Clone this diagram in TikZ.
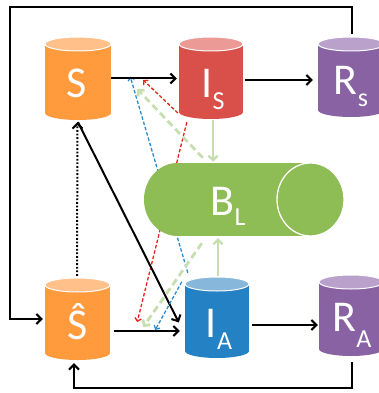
\documentclass[tikz,border=0pt]{standalone}
\usepackage{fontspec}
\setmainfont{Carlito}
\usetikzlibrary{arrows.meta,calc}
\definecolor{orbody}{HTML}{FF9A3D}
\definecolor{ortop}{HTML}{FFC08A}
\definecolor{rdbody}{HTML}{D9504A}
\definecolor{rdtop}{HTML}{EC9A96}
\definecolor{pubody}{HTML}{8862A3}
\definecolor{putop}{HTML}{B9A1CC}
\definecolor{blbody}{HTML}{2481C3}
\definecolor{bltop}{HTML}{88B7DC}
\definecolor{grbody}{HTML}{8EBC55}
\definecolor{grlight}{HTML}{C6DEB0}
\definecolor{dashred}{HTML}{E3231C}
\definecolor{dashblue}{HTML}{2A8BD0}
\newcommand\vcyl[7]{%
  \fill[#6] (#2,#3+7) rectangle (#4,#5-7);
  \fill[#6] ({(#2+#4)/2},#5-7) ellipse [x radius={(#4-#2)/2}, y radius=7];
  \filldraw[fill=#7, draw=white, line width=1pt] ({(#2+#4)/2},#3+7) ellipse [x radius={(#4-#2)/2}, y radius=7];
  \node[inner sep=0pt, minimum width={(#4-#2)*1pt}, minimum height={(#5-#3)*1pt}] (#1) at ({(#2+#4)/2},{(#3+#5)/2}) {};
}
\newcommand\mysub[2][12pt]{\raisebox{-#1}{\fontsize{26}{26}\selectfont #2}}
\tikzset{
  lab/.style={text=white, font=\fontsize{44}{44}\selectfont, anchor=base, inner sep=0pt},
  blk/.style={black, line width=2pt, -{Straight Barb[length=5pt,width=10pt]}},
  dotblk/.style={black, line width=2pt, dash pattern=on 1.8pt off 1.8pt, -{Straight Barb[length=5pt,width=10pt]}},
  dblue/.style={dashblue, line width=1.3pt, dash pattern=on 3.5pt off 2pt, -{Straight Barb[length=3pt,width=6.5pt]}},
  dred/.style={dashred, line width=1.3pt, dash pattern=on 3.5pt off 2pt, -{Straight Barb[length=3pt,width=6.5pt]}},
  dgreen/.style={grlight, line width=2.8pt, dash pattern=on 7pt off 4pt, -{Straight Barb[length=4pt,width=9pt]}},
  sgreen/.style={grlight, line width=2.2pt, -{Straight Barb[length=4.5pt,width=9pt]}}
}
\begin{document}
\begin{tikzpicture}[x=1pt,y=-1pt]
\useasboundingbox (0,0) rectangle (378,393);
% compartments
\vcyl{S}{45}{37}{111}{120}{orbody}{ortop}
\vcyl{IS}{179}{37}{243}{119}{rdbody}{rdtop}
\vcyl{RS}{318}{37}{384}{117}{pubody}{putop}
\vcyl{Sh}{45}{278}{110}{360}{orbody}{ortop}
\vcyl{IA}{185}{277}{249}{358}{blbody}{bltop}
\vcyl{RA}{319}{275}{383}{356}{pubody}{putop}
% long dashed lines behind B_L
\draw[dblue] ($(IA.north west)+(3,-4)$) -- ($(S.east)+(19,-2)$);
\draw[dred] ($(IS.south west)+(8,3)$) -- ($(Sh.east)+(27,3)$);
% B_L
\fill[grbody] (177.5,199.5) ellipse [x radius=33.5, y radius=36.5];
\fill[grbody] (177.5,163) rectangle (310.5,236);
\filldraw[fill=grbody, draw=white, line width=1.3pt] (310.5,199.5) ellipse [x radius=33.5, y radius=36.5];
\node[inner sep=0pt, minimum width=200pt, minimum height=73pt] (BL) at (244,199.5) {};
% labels
\node[lab] (Slab) at (77,98) {S};
\node[lab] (ISlab) at (213,98) {I\mysub{S}};
\node[lab] (RSlab) at (351,95) {R\mysub{s}};
\node[lab] (Shlab) at (78,339) {Ŝ};
\node[lab] (IAlab) at (219,337) {I\mysub{A}};
\node[lab] (RAlab) at (352,331) {R\mysub[16pt]{A}};
\node[lab] (BLlab) at (228,215) {B\mysub[10pt]{L}};
% black connectors
\coordinate (tl) at (10,7);
\coordinate (bl) at (74,388);
\draw[blk] (S.east) -- ($(S.east -| IS.west)+(-2,0)$);
\draw[blk] ($(IS.east)+(2,2)$) -- ($(IS.east -| RS.west)+(-5,2)$);
\draw[blk] ($(RS.north)+(1,-3)$) |- (tl) |- ($(Sh.west)+(-2,0)$);
\draw[blk] ($(RA.south)+(1,6)$) |- (bl) -- ($(bl |- Sh.south)+(0,3)$);
\draw[blk] ($(Sh.east)+(4,12)$) -- ($(Sh.east -| IA.west)+(-5,12)$);
\draw[blk] ($(IA.east)+(3,7.5)$) -- ($(IA.east -| RA.west)+(-1,7.5)$);
\draw[dotblk] ($(Sh.north)+(-0.5,-2)$) -- ($(S.south)+(-0.5,2)$);
\draw[blk] ($(S.south)+(0,2)$) -- ($(IA.west)+(-6,5)$);
% short dashed
\draw[dblue] ($(IA.north west)+(-3,5)$) -- ($(Sh.east)+(45,11)$);
\draw[dred] ($(IS.west)+(-1,35)$) -- ($(S.east)+(32,1.5)$);
\draw[dgreen] ($(BL.north west)+(59,-5)$) -- ($(S.east)+(26,10.5)$);
\draw[dgreen] ($(BL.south west)+(58,7)$) -- ($(Sh.east)+(33,8)$);
\draw[sgreen] ($(IS.south)+(2,1)$) -- ($(IS.south |- BL.north)+(2,-1)$);
\draw[sgreen] ($(IA.north)+(1,-1)$) -- ($(IA.north |- BL.south)+(1,2)$);
\end{tikzpicture}
\end{document}
